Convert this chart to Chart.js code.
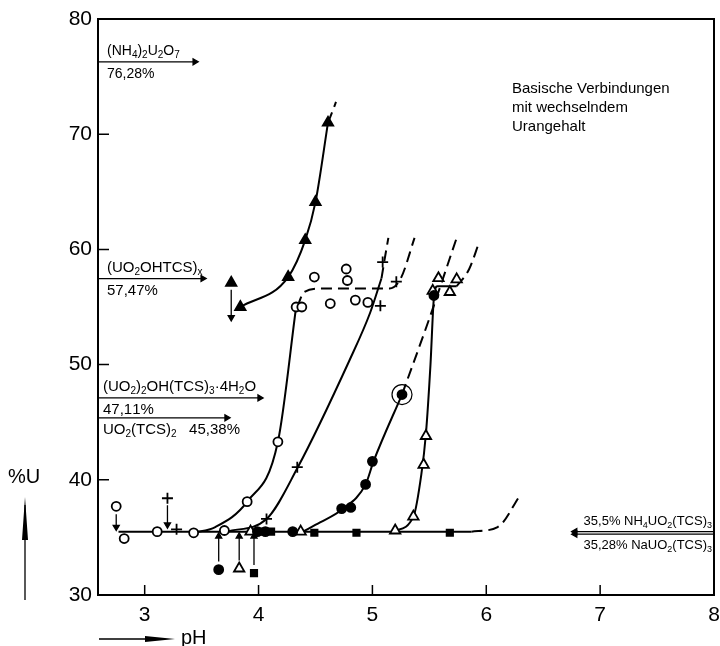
<!DOCTYPE html>
<html lang="de">
<head>
<meta charset="UTF-8" />
<script src="https://cdn.jsdelivr.net/npm/chart.js"></script>
<style>
  html, body { margin: 0; padding: 0; background: #fff; }
  #wrap { width: 720px; height: 646px; }
</style>
</head>
<body>
<div id="wrap"><canvas id="urChart"></canvas></div>
<script>
// measured points [pH, %U]
const offeneKreise = [[2.75,37.7],[2.82,34.9],[3.11,35.5],[3.43,35.4],[3.70,35.6],[3.90,38.1],[4.17,43.3],
  [4.33,55.0],[4.38,55.0],[4.49,57.6],[4.63,55.3],[4.77,58.3],[4.78,57.3],[4.85,55.6],[4.96,55.4]];
const kreuze = [[3.20,38.4],[3.28,35.7],[4.07,36.6],[4.34,41.1],[5.07,55.1],[5.09,58.9],[5.21,57.2]];
const dreieckeVoll = [[3.76,57.1],[3.84,55.0],[4.26,57.6],[4.41,60.8],[4.50,64.1],[4.61,71.0]];
const kreiseVoll = [[3.65,32.2],[3.99,35.5],[4.06,35.5],[4.30,35.5],[4.73,37.5],[4.81,37.6],
  [4.94,39.6],[5.00,41.6],[5.26,47.4],[5.54,56.0]];
const dreieckeOffen = [[3.83,32.3],[3.93,35.5],[4.37,35.5],[5.20,35.6],[5.36,36.8],[5.45,41.3],
  [5.47,43.8],[5.53,56.4],[5.58,57.5],[5.68,56.3],[5.74,57.4]];
const quadrateVoll = [[3.96,31.9],[4.03,35.5],[4.11,35.5],[4.49,35.4],[4.86,35.4],[5.68,35.4]];
const eingekreist = [[5.26,47.4]];

// curves drawn through the points (solid / dashed continuation)
const kurveBasis = [[2.77,35.5],[5.87,35.5]];
const kurveBasisStrich = [[5.87,35.5],[6.10,35.9],[6.30,38.7]];
const kurveDreieckVoll = [[3.84,55.0],[4.26,57.6],[4.41,60.8],[4.50,64.1],[4.61,71.0]];
const kurveDreieckVollStrich = [[4.61,71.0],[4.65,72.0],[4.68,72.8]];
const kurveKreis = [[3.43,35.4],[3.62,35.9],[3.90,38.1],[4.17,43.3],[4.33,55.0]];
const kurveKreisStrich = [[4.34,55.0],[4.40,56.3],[4.55,56.6],[5.15,56.6],[5.25,57.5],[5.37,61.0]];
const kurveKreuz = [[3.72,35.5],[4.07,36.6],[4.34,41.0],[4.80,50.4],[4.98,54.5],[5.08,57.5]];
const kurveKreuzStrich = [[5.08,57.5],[5.11,59.3],[5.14,61.0]];
const kurveKreisVoll = [[4.39,35.5],[4.54,36.3],[4.73,37.4],[4.94,39.6],[5.01,41.6],[5.26,47.4]];
const kurveKreisVollStrich = [[5.26,47.4],[5.50,54.0],[5.74,61.0]];
const kurveDreieckOffen = [[5.18,35.5],[5.36,36.8],[5.43,40.5],[5.47,44.0],[5.51,50.0],[5.54,55.8],[5.57,56.8],[5.74,56.8]];
const kurveDreieckOffenStrich = [[5.74,56.8],[5.85,58.3],[5.94,60.7]];

// small arrows at displaced points [pH, from %U, to %U]
const pfeile = [[2.75,37.0,35.9],[3.20,37.8,36.1],[3.65,32.9,35.1],[3.83,33.0,35.1],[3.96,32.6,35.1],[3.76,56.5,54.1]];

// reference compounds (left side) [%U, arrow end pH]
const verbStufen = [76.28, 57.47, 47.11, 45.38];
const verbEnden = [3.44, 3.51, 4.01, 3.72];
const verbOben = ['(NH_4)_2U_2O_7', '(UO_2OHTCS)_x', '(UO_2)_2OH(TCS)_3\u00b74H_2O', ''];
const verbUnten = ['76,28%', '57,47%', '47,11%', 'UO_2(TCS)_2   45,38%'];
// right side
const rechtsStufen = [35.5, 35.28];
const rechtsText = ['35,5% NH_4UO_2(TCS)_3', '35,28% NaUO_2(TCS)_3'];

const xTicks = [3, 4, 5, 6, 7, 8];
const FONT = "'Liberation Sans', Arial, sans-serif";

const pts = a => a.map(p => ({ x: p[0], y: p[1] }));

function kurve(a, dash) {
  return { data: pts(a), showLine: true, pointRadius: 0, borderColor: '#000', borderWidth: 2,
    borderDash: dash ? [11, 6] : [], cubicInterpolationMode: 'monotone', tension: 0.4, order: 5 };
}
function punkte(a, style, fill, r) {
  return { data: pts(a), showLine: false, pointStyle: style, pointRadius: r, borderWidth: 1.8,
    pointBorderColor: '#000', pointBackgroundColor: fill, order: 1 };
}
function pfeil(x0, y0, x1, y1, rot, w) {
  return { data: [{ x: x0, y: y0 }, { x: x1, y: y1 }], showLine: true, borderColor: '#000',
    borderWidth: w || 1.3, pointRadius: [0, 3.5], pointStyle: 'triangle', rotation: rot,
    pointBackgroundColor: '#000', pointBorderColor: '#000', borderDash: [], order: 2 };
}

const datasets = [
  kurve(kurveBasis), kurve(kurveBasisStrich, true),
  kurve(kurveDreieckVoll), kurve(kurveDreieckVollStrich, true),
  kurve(kurveKreis), kurve(kurveKreisStrich, true),
  kurve(kurveKreuz), kurve(kurveKreuzStrich, true),
  kurve(kurveKreisVoll), kurve(kurveKreisVollStrich, true),
  kurve(kurveDreieckOffen), kurve(kurveDreieckOffenStrich, true),
  punkte(offeneKreise, 'circle', '#fff', 4.5),
  punkte(kreuze, 'cross', '#000', 5.5),
  punkte(dreieckeVoll, 'triangle', '#000', 6),
  punkte(kreiseVoll, 'circle', '#000', 4.5),
  punkte(dreieckeOffen, 'triangle', '#fff', 6),
  punkte(quadrateVoll, 'rect', '#000', 4.5),
  Object.assign(punkte(eingekreist, 'circle', 'rgba(0,0,0,0)', 10), { borderWidth: 1.2 })
];
pfeile.forEach(p => datasets.push(pfeil(p[0], p[1], p[0], p[2], p[2] < p[1] ? 180 : 0)));
verbStufen.forEach((u, i) => datasets.push(pfeil(2.59, u, verbEnden[i], u, 90, 1.2)));
rechtsStufen.forEach(u => datasets.push(pfeil(8, u, 6.78, u, 270, 1.2)));

// text with "_" marking a subscript character
function rich(ctx, s, x, y, size, align) {
  const parts = [];
  for (let i = 0; i < s.length; i++) {
    if (s[i] === '_' && i + 1 < s.length) { parts.push([s[i + 1], true]); i++; }
    else parts.push([s[i], false]);
  }
  const f = sub => (sub ? Math.round(size * 0.68) : size) + 'px ' + FONT;
  let w = 0;
  parts.forEach(p => { ctx.font = f(p[1]); w += ctx.measureText(p[0]).width; });
  let cx = align === 'right' ? x - w : x;
  ctx.textBaseline = 'middle';
  ctx.textAlign = 'left';
  parts.forEach(p => {
    ctx.font = f(p[1]);
    ctx.fillText(p[0], cx, p[1] ? y + size * 0.3 : y);
    cx += ctx.measureText(p[0]).width;
  });
}

const extras = {
  id: 'extras',
  afterDraw(chart) {
    const { ctx, chartArea: a, scales: { x, y } } = chart;
    ctx.save();
    ctx.strokeStyle = '#000';
    ctx.fillStyle = '#000';
    // frame top / right
    ctx.lineWidth = 2;
    ctx.beginPath();
    ctx.moveTo(a.left, a.top); ctx.lineTo(a.right, a.top); ctx.lineTo(a.right, a.bottom);
    ctx.stroke();
    // inward ticks
    ctx.lineWidth = 1.5;
    ctx.beginPath();
    xTicks.forEach(v => { const px = x.getPixelForValue(v); ctx.moveTo(px, a.bottom); ctx.lineTo(px, a.bottom - 10); });
    y.ticks.forEach(t => { const py = y.getPixelForValue(t.value); ctx.moveTo(a.left, py); ctx.lineTo(a.left + 11, py); });
    ctx.stroke();

    // compound labels at the left axis
    verbStufen.forEach((u, i) => {
      const py = y.getPixelForValue(u);
      const dx = i < 2 ? 9 : 5;
      if (verbOben[i]) rich(ctx, verbOben[i], a.left + dx, py - 11, i === 0 ? 14 : 15);
      rich(ctx, verbUnten[i], a.left + dx, py + 12, i === 0 ? 14 : 15);
    });
    rich(ctx, rechtsText[0], a.right - 2, y.getPixelForValue(rechtsStufen[0]) - 10, 13, 'right');
    rich(ctx, rechtsText[1], a.right - 2, y.getPixelForValue(rechtsStufen[1]) + 11, 13, 'right');

    // title block
    ctx.font = '15px ' + FONT;
    ctx.textAlign = 'left';
    ctx.textBaseline = 'middle';
    ['Basische Verbindungen', 'mit wechselndem', 'Urangehalt'].forEach((t, i) => ctx.fillText(t, 512, 89 + i * 19));

    // axis titles with arrows
    ctx.font = '20px ' + FONT;
    ctx.fillText('%U', 8, 477);
    ctx.fillText('pH', 181, 638);
    ctx.lineWidth = 1.3;
    ctx.beginPath();
    ctx.moveTo(25, 600); ctx.lineTo(25, 505);
    ctx.moveTo(99, 639); ctx.lineTo(165, 639);
    ctx.stroke();
    ctx.beginPath();
    ctx.moveTo(25, 497); ctx.lineTo(22, 540); ctx.lineTo(28, 540); ctx.closePath();
    ctx.moveTo(175, 639); ctx.lineTo(145, 636); ctx.lineTo(145, 642); ctx.closePath();
    ctx.fill();
    ctx.restore();
  }
};

new Chart(document.getElementById('urChart'), {
  type: 'scatter',
  data: { datasets },
  options: {
    responsive: true,
    maintainAspectRatio: false,
    animation: false,
    layout: { autoPadding: false, padding: { top: 19, right: 0, left: 0, bottom: 0 } },
    plugins: { legend: { display: false }, tooltip: { enabled: false } },
    scales: {
      x: {
        type: 'linear', min: 2.59, max: 8,
        afterBuildTicks: s => { s.ticks = xTicks.map(v => ({ value: v })); },
        afterFit: s => { s.height = 51; s.paddingRight = 6; s.paddingLeft = 0; },
        grid: { display: false, drawTicks: false },
        border: { display: true, color: '#000', width: 2 },
        ticks: { color: '#000', padding: 8, font: { family: FONT, size: 21 } }
      },
      y: {
        type: 'linear', min: 30, max: 80,
        ticks: { stepSize: 10, color: '#000', padding: 6, font: { family: FONT, size: 21 } },
        afterFit: s => { s.width = 98; },
        grid: { display: false, drawTicks: false },
        border: { display: true, color: '#000', width: 2 }
      }
    }
  },
  plugins: [extras]
});
</script>
</body>
</html>
